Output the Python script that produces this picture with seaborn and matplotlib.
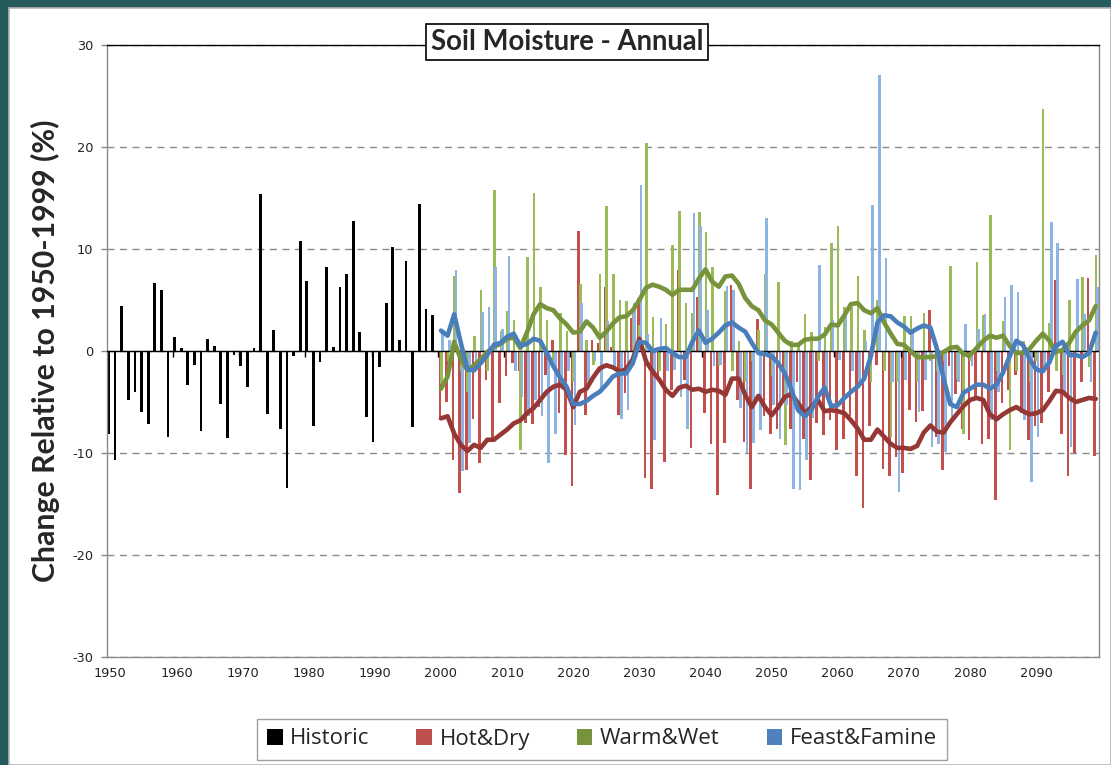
import numpy as np
import pandas as pd
import matplotlib
matplotlib.use("Agg")
import matplotlib.pyplot as plt
from matplotlib.patches import Rectangle, Patch
import seaborn as sns

# ---- data -------------------------------------------------------------
hist_years = list(range(1950, 2000))
historic = [-8.1, -10.7, 4.4, -4.8, -4.0, -6.0, -7.2, 6.7, 6.0, -8.4,
            1.4, 0.3, -3.3, -1.4, -7.8, 1.2, 0.5, -5.2, -8.5, -0.4,
            -1.5, -3.5, 0.3, 15.4, -6.2, 2.1, -7.6, -13.4, -0.5, 10.8,
            6.9, -7.4, -1.1, 8.2, 0.4, 6.3, 7.5, 12.7, 1.9, -6.5,
            -8.9, -1.6, 4.7, 10.2, 1.1, 8.8, -7.5, 14.4, 4.1, 3.5]

fut_years = list(range(2000, 2100))
hot_dry = [-6.8, -5.0, -10.7, -13.9, -11.7, -6.7, -11.0, -2.8, -8.7, -5.1,
           -2.5, -1.2, -2.0, -7.1, -7.2, -5.5, -2.4, 1.1, -6.1, -10.2,
           -13.2, 11.8, -6.3, 1.1, 0.8, 6.3, 0.4, -6.3, -4.1, 3.2,
           5.2, -12.5, -13.5, -2.5, -10.9, -3.8, 7.9, -2.8, -9.5, 5.3,
           -6.1, -9.1, -14.1, -9.0, 6.5, -4.8, -8.9, -13.5, 3.1, -6.4,
           -8.1, -7.6, -5.0, -7.6, -3.0, -8.6, -12.6, -7.1, -8.2, -6.8,
           -9.7, -8.6, -6.4, -12.3, -15.4, -7.4, -1.4, -11.6, -12.3, -10.4,
           -12.0, -5.8, -7.0, -5.9, 4.0, -8.4, -11.7, -1.5, -4.2, -7.6,
           -8.7, -4.8, -9.1, -8.6, -14.6, -5.1, -3.8, -2.4, -6.1, -8.7,
           -7.4, -7.1, -4.0, 7.0, -8.1, -12.3, -10.0, -3.0, 7.2, -10.3]
warm_wet = [-3.2, -1.0, 7.4, -2.0, -4.0, 1.5, 6.0, -2.0, 15.8, 2.0,
            3.9, 3.0, -9.7, 9.2, 15.5, 6.3, 3.0, -1.0, 3.7, 2.0,
            -3.0, 6.6, 1.1, -1.4, 7.5, 14.2, 7.5, 5.0, 4.9, 3.7,
            2.5, 20.4, 3.3, -2.0, 2.6, 10.4, 13.7, 4.7, 3.7, 13.6,
            11.7, 8.2, -1.5, 5.9, -2.0, 1.0, -3.0, -1.0, 2.1, 7.5,
            -2.5, 6.8, -9.2, 1.0, 0.8, 3.6, 1.9, -1.0, 2.4, 10.6,
            12.3, 4.3, 4.3, 7.4, 2.1, -3.0, 5.0, -2.0, -8.4, -3.0,
            3.4, 3.4, -3.0, 3.7, -1.0, -2.0, -1.0, 8.3, -2.7, -8.1,
            -1.0, 8.7, 3.5, 13.3, -2.0, 2.9, -9.7, -2.0, 1.0, -3.0,
            -1.0, 23.7, 2.7, -2.0, -2.4, 5.0, 2.0, 7.3, -1.6, 9.4]
feast_famine = [2.0, 1.1, 7.9, -11.8, -9.0, -1.0, 3.8, 4.3, 8.2, 2.2,
                9.3, -2.0, -4.5, -6.4, -4.8, -6.4, -11.0, -8.1, -3.0, -2.0,
                -7.3, 4.7, -3.0, -1.0, -3.8, 2.9, -1.9, -6.7, -5.8, 4.7,
                16.3, 1.7, -8.7, 3.2, -2.0, -1.9, -4.5, -7.6, 13.5, 12.3,
                4.0, -1.5, -1.4, 6.4, 6.0, -5.6, -10.0, -9.0, -7.7, 13.0,
                -5.3, -8.6, -5.3, -13.5, -13.6, -10.7, -6.6, 8.4, -4.2, 3.0,
                -0.9, 4.2, -2.0, -3.0, 1.0, 14.3, 27.1, 9.1, -3.0, -13.8,
                -2.8, 2.0, -6.0, -2.8, -9.4, -9.1, -9.9, -7.0, -3.0, 2.6,
                -1.5, 2.2, 3.6, -6.8, -4.0, 5.3, 6.5, 5.8, -6.8, -12.8,
                -8.4, -2.0, 12.6, 10.6, -4.0, -9.4, 7.1, 3.6, -3.0, 6.3]

# running means drawn as lines
hot_dry_smooth = [-6.6, -6.4, -8.1, -9.2, -9.8, -9.2, -9.5, -8.7, -8.7, -8.2,
                  -7.7, -7.1, -6.8, -6.1, -5.6, -4.8, -4.0, -3.5, -3.3, -3.8,
                  -5.5, -4.0, -3.7, -2.6, -1.7, -1.4, -1.6, -2.0, -1.8, -0.8,
                  1.2, -1.0, -2.0, -2.8, -3.8, -4.4, -3.6, -3.4, -3.8, -3.7,
                  -4.0, -3.8, -3.9, -4.3, -2.7, -2.7, -4.3, -5.5, -4.4, -5.5,
                  -6.3, -5.5, -4.5, -4.2, -5.1, -6.1, -5.5, -4.8, -5.9, -5.8,
                  -5.9, -6.1, -6.8, -7.6, -8.7, -8.7, -7.7, -8.4, -9.1, -9.5,
                  -9.5, -9.6, -9.3, -8.0, -7.3, -7.9, -8.0, -7.0, -6.2, -5.4,
                  -4.8, -4.6, -4.8, -6.2, -6.7, -6.2, -5.8, -5.5, -5.9, -6.2,
                  -6.1, -5.8, -4.9, -3.9, -4.0, -4.6, -5.0, -4.8, -4.6, -4.7]
warm_wet_smooth = [-3.7, -2.5, 0.9, -0.8, -1.9, -1.4, -0.8, -0.1, 0.4, 0.7,
                   1.2, 1.3, 0.3, 1.8, 3.6, 4.6, 4.2, 4.0, 3.2, 2.6,
                   1.8, 1.9, 2.9, 2.3, 1.3, 1.9, 2.7, 3.3, 3.4, 4.0,
                   5.0, 6.2, 6.5, 6.3, 6.0, 5.5, 6.0, 6.0, 6.0, 7.1,
                   8.0, 6.8, 6.3, 7.3, 7.4, 6.6, 5.2, 4.4, 4.0, 3.0,
                   2.6, 1.8, 1.0, 0.6, 0.6, 1.1, 1.2, 1.2, 1.6, 2.6,
                   2.5, 3.5, 4.6, 4.7, 4.0, 3.7, 4.2, 2.8, 1.7, 0.7,
                   0.6, 0.0, -0.6, -0.6, -0.6, -0.5, -0.1, 0.3, 0.4, -0.3,
                   -0.4, 0.3, 1.0, 1.5, 1.3, 1.5, 0.5, -0.2, -0.2, 0.2,
                   1.0, 1.7, 1.0, -0.1, 0.1, 0.8, 1.9, 2.5, 3.0, 4.4]
feast_famine_smooth = [2.0, 1.5, 3.6, 0.8, -1.8, -1.9, -1.2, -0.4, 0.6, 0.8,
                       1.4, 1.7, 0.5, 0.7, 1.2, 1.0, -0.2, -1.5, -2.6, -3.5,
                       -5.2, -5.2, -4.9, -4.4, -4.0, -3.3, -2.5, -2.2, -2.2, -1.2,
                       0.9, 0.8, 0.0, 0.2, 0.3, -0.2, -0.6, -0.6, 0.9, 2.0,
                       0.8, 1.2, 1.8, 2.5, 2.8, 2.3, 1.9, 0.8, -0.2, -0.3,
                       -0.5, -1.2, -2.2, -3.8, -5.8, -6.4, -5.8, -4.5, -3.6, -5.4,
                       -5.3, -4.6, -4.0, -3.5, -2.7, -0.5, 2.8, 3.5, 3.4, 2.8,
                       2.4, 1.8, 2.2, 2.5, 2.3, 0.2, -2.7, -5.2, -5.5, -4.1,
                       -3.7, -3.3, -3.3, -3.7, -3.3, -2.1, -0.5, 1.0, 0.6, -0.8,
                       -1.8, -2.0, -1.1, 0.5, 0.9, -0.4, -0.4, -0.6, -0.2, 1.8]

decade_labels = [str(y) for y in range(1950, 2100, 10)]
y_ticks = [-30, -20, -10, 0, 10, 20, 30]

legend_names = ["Historic", "Hot&Dry", "Warm&Wet", "Feast&Famine"]
legend_colors = ["#000000", "#C0504D", "#77933C", "#4F81BD"]
bar_colors = ["#000000", "#C4504D", "#9BBB59", "#8DB4E2"]
line_colors = ["#953735", "#77933C", "#4A7EBB"]

# ---- figure -----------------------------------------------------------
W, H = 1111, 765
fig = plt.figure(figsize=(W / 100, H / 100), dpi=100)
fig.patch.set_facecolor("#255b5d")
fig.patches.append(Rectangle((9 / W, 0), 1 - 9 / W, 1 - 8 / H,
                             transform=fig.transFigure, facecolor="white",
                             edgecolor="#b5b5b5", lw=1.2, zorder=-5))

sns.set_style("white")
ax = fig.add_axes([107 / W, 1 - 657 / H, 992 / W, 612 / H])
ax.set_zorder(2)
ax.set_facecolor("none")

df_hist = pd.DataFrame({"x": np.array(hist_years) + 0.22, "v": historic})
df_fut = pd.DataFrame({"year": fut_years, "hd": hot_dry, "ww": warm_wet,
                       "ff": feast_famine, "hd_s": hot_dry_smooth,
                       "ww_s": warm_wet_smooth, "ff_s": feast_famine_smooth})

sns.barplot(data=df_hist, x="x", y="v", native_scale=True, width=0.42,
            color=bar_colors[0], saturation=1, linewidth=0, errorbar=None,
            ax=ax, zorder=2)
for col, off, c in [("hd", 0.33, bar_colors[1]), ("ww", 0.55, bar_colors[2]),
                    ("ff", 0.77, bar_colors[3])]:
    d = pd.DataFrame({"x": df_fut["year"] + off, "v": df_fut[col]})
    sns.barplot(data=d, x="x", y="v", native_scale=True, width=0.4,
                color=c, saturation=1, linewidth=0, errorbar=None,
                ax=ax, zorder=2)

ax.axhline(0, color="black", lw=1.0, zorder=3)

for col, c in [("hd_s", line_colors[0]), ("ww_s", line_colors[1]),
               ("ff_s", line_colors[2])]:
    d = pd.DataFrame({"x": df_fut["year"] + 0.5, "v": df_fut[col]})
    sns.lineplot(data=d, x="x", y="v", color=c, lw=3.3, ax=ax, zorder=4,
                 solid_capstyle="round", solid_joinstyle="round")

# decade tick marks sitting on the zero line
tick_years = list(range(1960, 2100, 10))
ax.plot(tick_years, [0] * len(tick_years), ls="none", marker=3, ms=4,
        mew=1, color="black", zorder=3)

ax.set_xlim(1950, 2100)
ax.set_ylim(-30, 30)
ax.set_xticks(np.arange(1950, 2100, 10) + 0.5)
ax.set_xticklabels(decade_labels)
ax.set_yticks(y_ticks)
ax.set_yticklabels([str(t) for t in y_ticks])
ax.tick_params(axis="x", length=0, pad=7, labelsize=9.3, colors="#222222")
ax.tick_params(axis="y", length=4, width=1, color="#888888", pad=6,
               labelsize=9.3, labelcolor="#222222", left=True)
ax.set_xlabel("")
ax.set_ylabel("")
for y in y_ticks:
    ax.axhline(y, color="#8a8a8a", lw=1.0, ls=(0, (5, 4)), zorder=1)
for s in ["left", "right", "bottom"]:
    ax.spines[s].set_color("#8a8a8a")
    ax.spines[s].set_linewidth(1.0)
ax.spines["top"].set_color("black")
ax.spines["top"].set_linewidth(1.0)
for s in ax.spines.values():
    s.set_visible(True)

fig.text(567 / W, 1 - 42 / H, "Soil Moisture - Annual", ha="center",
         va="center", fontsize=19.8, fontweight="bold", family="Lato",
         bbox=dict(facecolor="white", edgecolor="black", lw=1.2,
                   boxstyle="square,pad=0.18"), zorder=10)
fig.text(45 / W, 1 - 351 / H, "Change Relative to 1950-1999 (%)",
         rotation=90, ha="center", va="center", fontsize=21.8,
         fontweight="bold", family="Lato")

handles = [Patch(facecolor=c, edgecolor="none") for c in legend_colors]
leg = fig.legend(handles, legend_names, loc="center",
                 bbox_to_anchor=(602 / W, 1 - 739 / H), ncol=4,
                 frameon=True, fancybox=False, handlelength=0.7,
                 handleheight=0.7, handletextpad=0.35, columnspacing=2.1,
                 borderpad=0.45, prop={"family": "Open Sans", "size": 16})
leg.get_frame().set_edgecolor("#8a8a8a")
leg.get_frame().set_linewidth(1.0)

fig.savefig("out.png", dpi=100, facecolor=fig.get_facecolor())
